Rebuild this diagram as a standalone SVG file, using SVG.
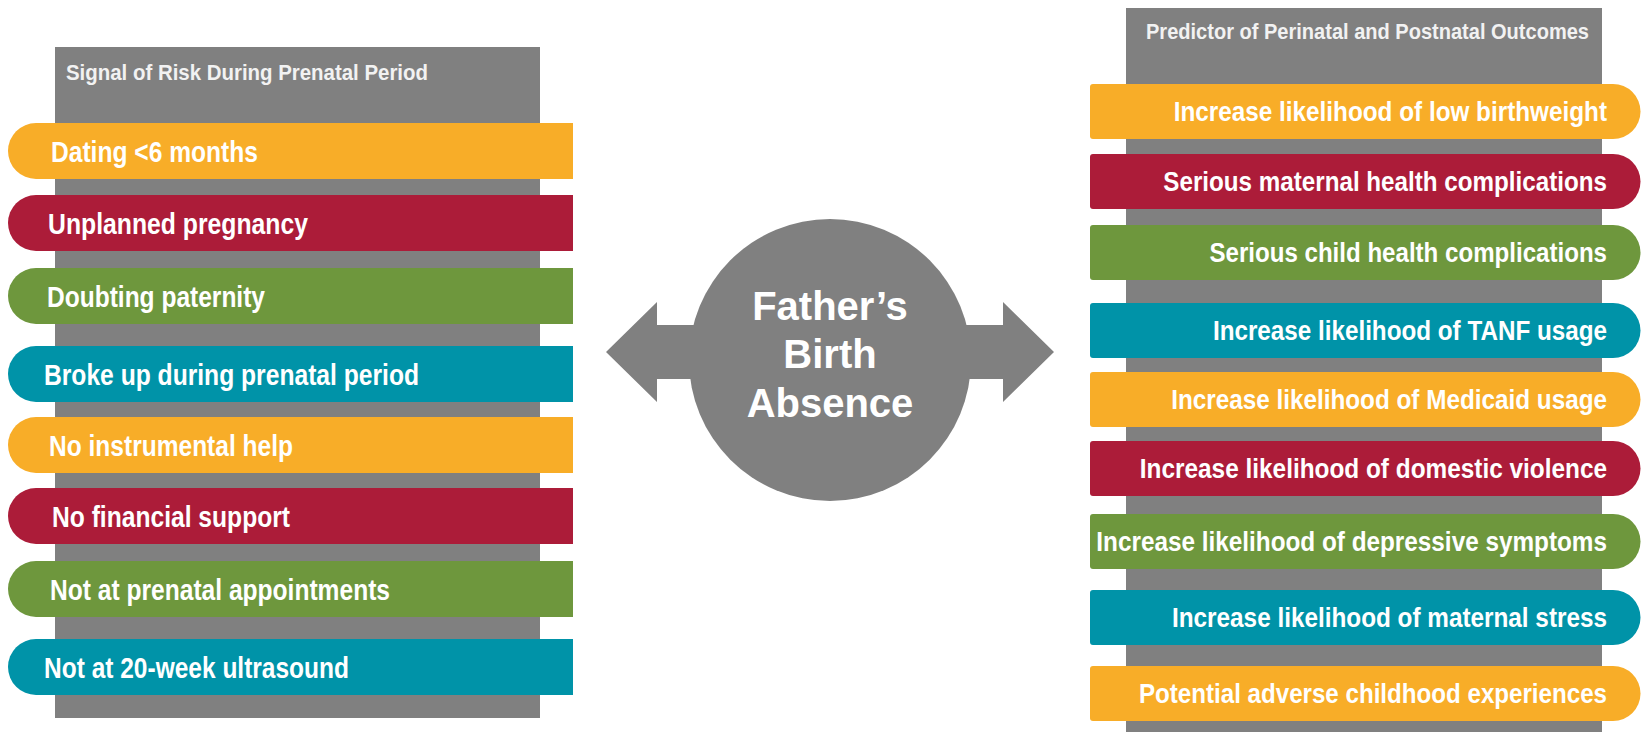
<svg xmlns="http://www.w3.org/2000/svg" width="1643" height="732" viewBox="0 0 1643 732">
<style>
.panel{fill:#808080}
.y{fill:#F8AD28}.r{fill:#AC1C39}.g{fill:#6E973D}.t{fill:#0093A8}
.lbl{font-family:"Liberation Sans",Arial,sans-serif;font-weight:bold;font-size:29px;fill:#FFFFFF}
.rl{font-size:28px;text-anchor:end}
.ttl{font-family:"Liberation Sans",Arial,sans-serif;font-weight:bold;font-size:22px;fill:#F2F2F2}
.ctr{font-family:"Liberation Sans",Arial,sans-serif;font-weight:bold;font-size:40px;fill:#FFFFFF;text-anchor:middle}
</style>
<rect width="1643" height="732" fill="#FFFFFF"/>
<g id="left-panel">
<rect class="panel" x="55" y="47" width="485" height="671"/>
<text class="ttl" x="66" y="80" textLength="362" lengthAdjust="spacingAndGlyphs">Signal of Risk During Prenatal Period</text>
</g>
<g id="right-panel">
<rect class="panel" x="1126" y="8" width="476" height="724"/>
<text class="ttl" x="1146" y="39" textLength="443" lengthAdjust="spacingAndGlyphs">Predictor of Perinatal and Postnatal Outcomes</text>
</g>
<g id="connectors">
<polygon fill="#808080" points="606,352 657,302 657,325 720,325 720,379 657,379 657,402"/>
<polygon fill="#808080" points="1054,352 1003,302 1003,325 940,325 940,379 1003,379 1003,402"/>
</g>
<g id="center">
<circle cx="830" cy="360" r="141" fill="#808080"/>
<text class="ctr" x="830" y="320">Father’s</text>
<text class="ctr" x="830" y="368">Birth</text>
<text class="ctr" x="830" y="417">Absence</text>
</g>
<g id="l1"><path class="y" d="M573,123 H36 A28,28 0 0 0 36,179 H573 Z"/><text class="lbl" x="51" y="162" textLength="207" lengthAdjust="spacingAndGlyphs">Dating &lt;6 months</text></g>
<g id="l2"><path class="r" d="M573,195 H36 A28,28 0 0 0 36,251 H573 Z"/><text class="lbl" x="48" y="234" textLength="260" lengthAdjust="spacingAndGlyphs">Unplanned pregnancy</text></g>
<g id="l3"><path class="g" d="M573,268 H36 A28,28 0 0 0 36,324 H573 Z"/><text class="lbl" x="47" y="307" textLength="218" lengthAdjust="spacingAndGlyphs">Doubting paternity</text></g>
<g id="l4"><path class="t" d="M573,346 H36 A28,28 0 0 0 36,402 H573 Z"/><text class="lbl" x="44" y="385" textLength="375" lengthAdjust="spacingAndGlyphs">Broke up during prenatal period</text></g>
<g id="l5"><path class="y" d="M573,417 H36 A28,28 0 0 0 36,473 H573 Z"/><text class="lbl" x="49" y="456" textLength="244" lengthAdjust="spacingAndGlyphs">No instrumental help</text></g>
<g id="l6"><path class="r" d="M573,488 H36 A28,28 0 0 0 36,544 H573 Z"/><text class="lbl" x="52" y="527" textLength="238" lengthAdjust="spacingAndGlyphs">No financial support</text></g>
<g id="l7"><path class="g" d="M573,561 H36 A28,28 0 0 0 36,617 H573 Z"/><text class="lbl" x="50" y="600" textLength="340" lengthAdjust="spacingAndGlyphs">Not at prenatal appointments</text></g>
<g id="l8"><path class="t" d="M573,639 H36 A28,28 0 0 0 36,695 H573 Z"/><text class="lbl" x="44" y="678" textLength="305" lengthAdjust="spacingAndGlyphs">Not at 20-week ultrasound</text></g>
<g id="r1"><path class="y" d="M1093,84 H1613 A27.5,27.5 0 0 1 1613,139 H1093 Q1090,139 1090,136 V87 Q1090,84 1093,84 Z"/><text class="lbl rl" transform="translate(1607,121) scale(0.87,1)" x="0" y="0" textLength="498" lengthAdjust="spacingAndGlyphs">Increase likelihood of low birthweight</text></g>
<g id="r2"><path class="r" d="M1093,154 H1613 A27.5,27.5 0 0 1 1613,209 H1093 Q1090,209 1090,206 V157 Q1090,154 1093,154 Z"/><text class="lbl rl" transform="translate(1607,191) scale(0.87,1)" x="0" y="0" textLength="510" lengthAdjust="spacingAndGlyphs">Serious maternal health complications</text></g>
<g id="r3"><path class="g" d="M1093,225 H1613 A27.5,27.5 0 0 1 1613,280 H1093 Q1090,280 1090,277 V228 Q1090,225 1093,225 Z"/><text class="lbl rl" transform="translate(1607,262) scale(0.87,1)" x="0" y="0" textLength="457" lengthAdjust="spacingAndGlyphs">Serious child health complications</text></g>
<g id="r4"><path class="t" d="M1093,303 H1613 A27.5,27.5 0 0 1 1613,358 H1093 Q1090,358 1090,355 V306 Q1090,303 1093,303 Z"/><text class="lbl rl" transform="translate(1607,340) scale(0.87,1)" x="0" y="0" textLength="453" lengthAdjust="spacingAndGlyphs">Increase likelihood of TANF usage</text></g>
<g id="r5"><path class="y" d="M1093,372 H1613 A27.5,27.5 0 0 1 1613,427 H1093 Q1090,427 1090,424 V375 Q1090,372 1093,372 Z"/><text class="lbl rl" transform="translate(1607,409) scale(0.87,1)" x="0" y="0" textLength="501" lengthAdjust="spacingAndGlyphs">Increase likelihood of Medicaid usage</text></g>
<g id="r6"><path class="r" d="M1093,441 H1613 A27.5,27.5 0 0 1 1613,496 H1093 Q1090,496 1090,493 V444 Q1090,441 1093,441 Z"/><text class="lbl rl" transform="translate(1607,478) scale(0.87,1)" x="0" y="0" textLength="537" lengthAdjust="spacingAndGlyphs">Increase likelihood of domestic violence</text></g>
<g id="r7"><path class="g" d="M1093,514 H1613 A27.5,27.5 0 0 1 1613,569 H1093 Q1090,569 1090,566 V517 Q1090,514 1093,514 Z"/><text class="lbl rl" transform="translate(1607,551) scale(0.87,1)" x="0" y="0" textLength="587" lengthAdjust="spacingAndGlyphs">Increase likelihood of depressive symptoms</text></g>
<g id="r8"><path class="t" d="M1093,590 H1613 A27.5,27.5 0 0 1 1613,645 H1093 Q1090,645 1090,642 V593 Q1090,590 1093,590 Z"/><text class="lbl rl" transform="translate(1607,627) scale(0.87,1)" x="0" y="0" textLength="500" lengthAdjust="spacingAndGlyphs">Increase likelihood of maternal stress</text></g>
<g id="r9"><path class="y" d="M1093,666 H1613 A27.5,27.5 0 0 1 1613,721 H1093 Q1090,721 1090,718 V669 Q1090,666 1093,666 Z"/><text class="lbl rl" transform="translate(1607,703) scale(0.87,1)" x="0" y="0" textLength="538" lengthAdjust="spacingAndGlyphs">Potential adverse childhood experiences</text></g>
</svg>
